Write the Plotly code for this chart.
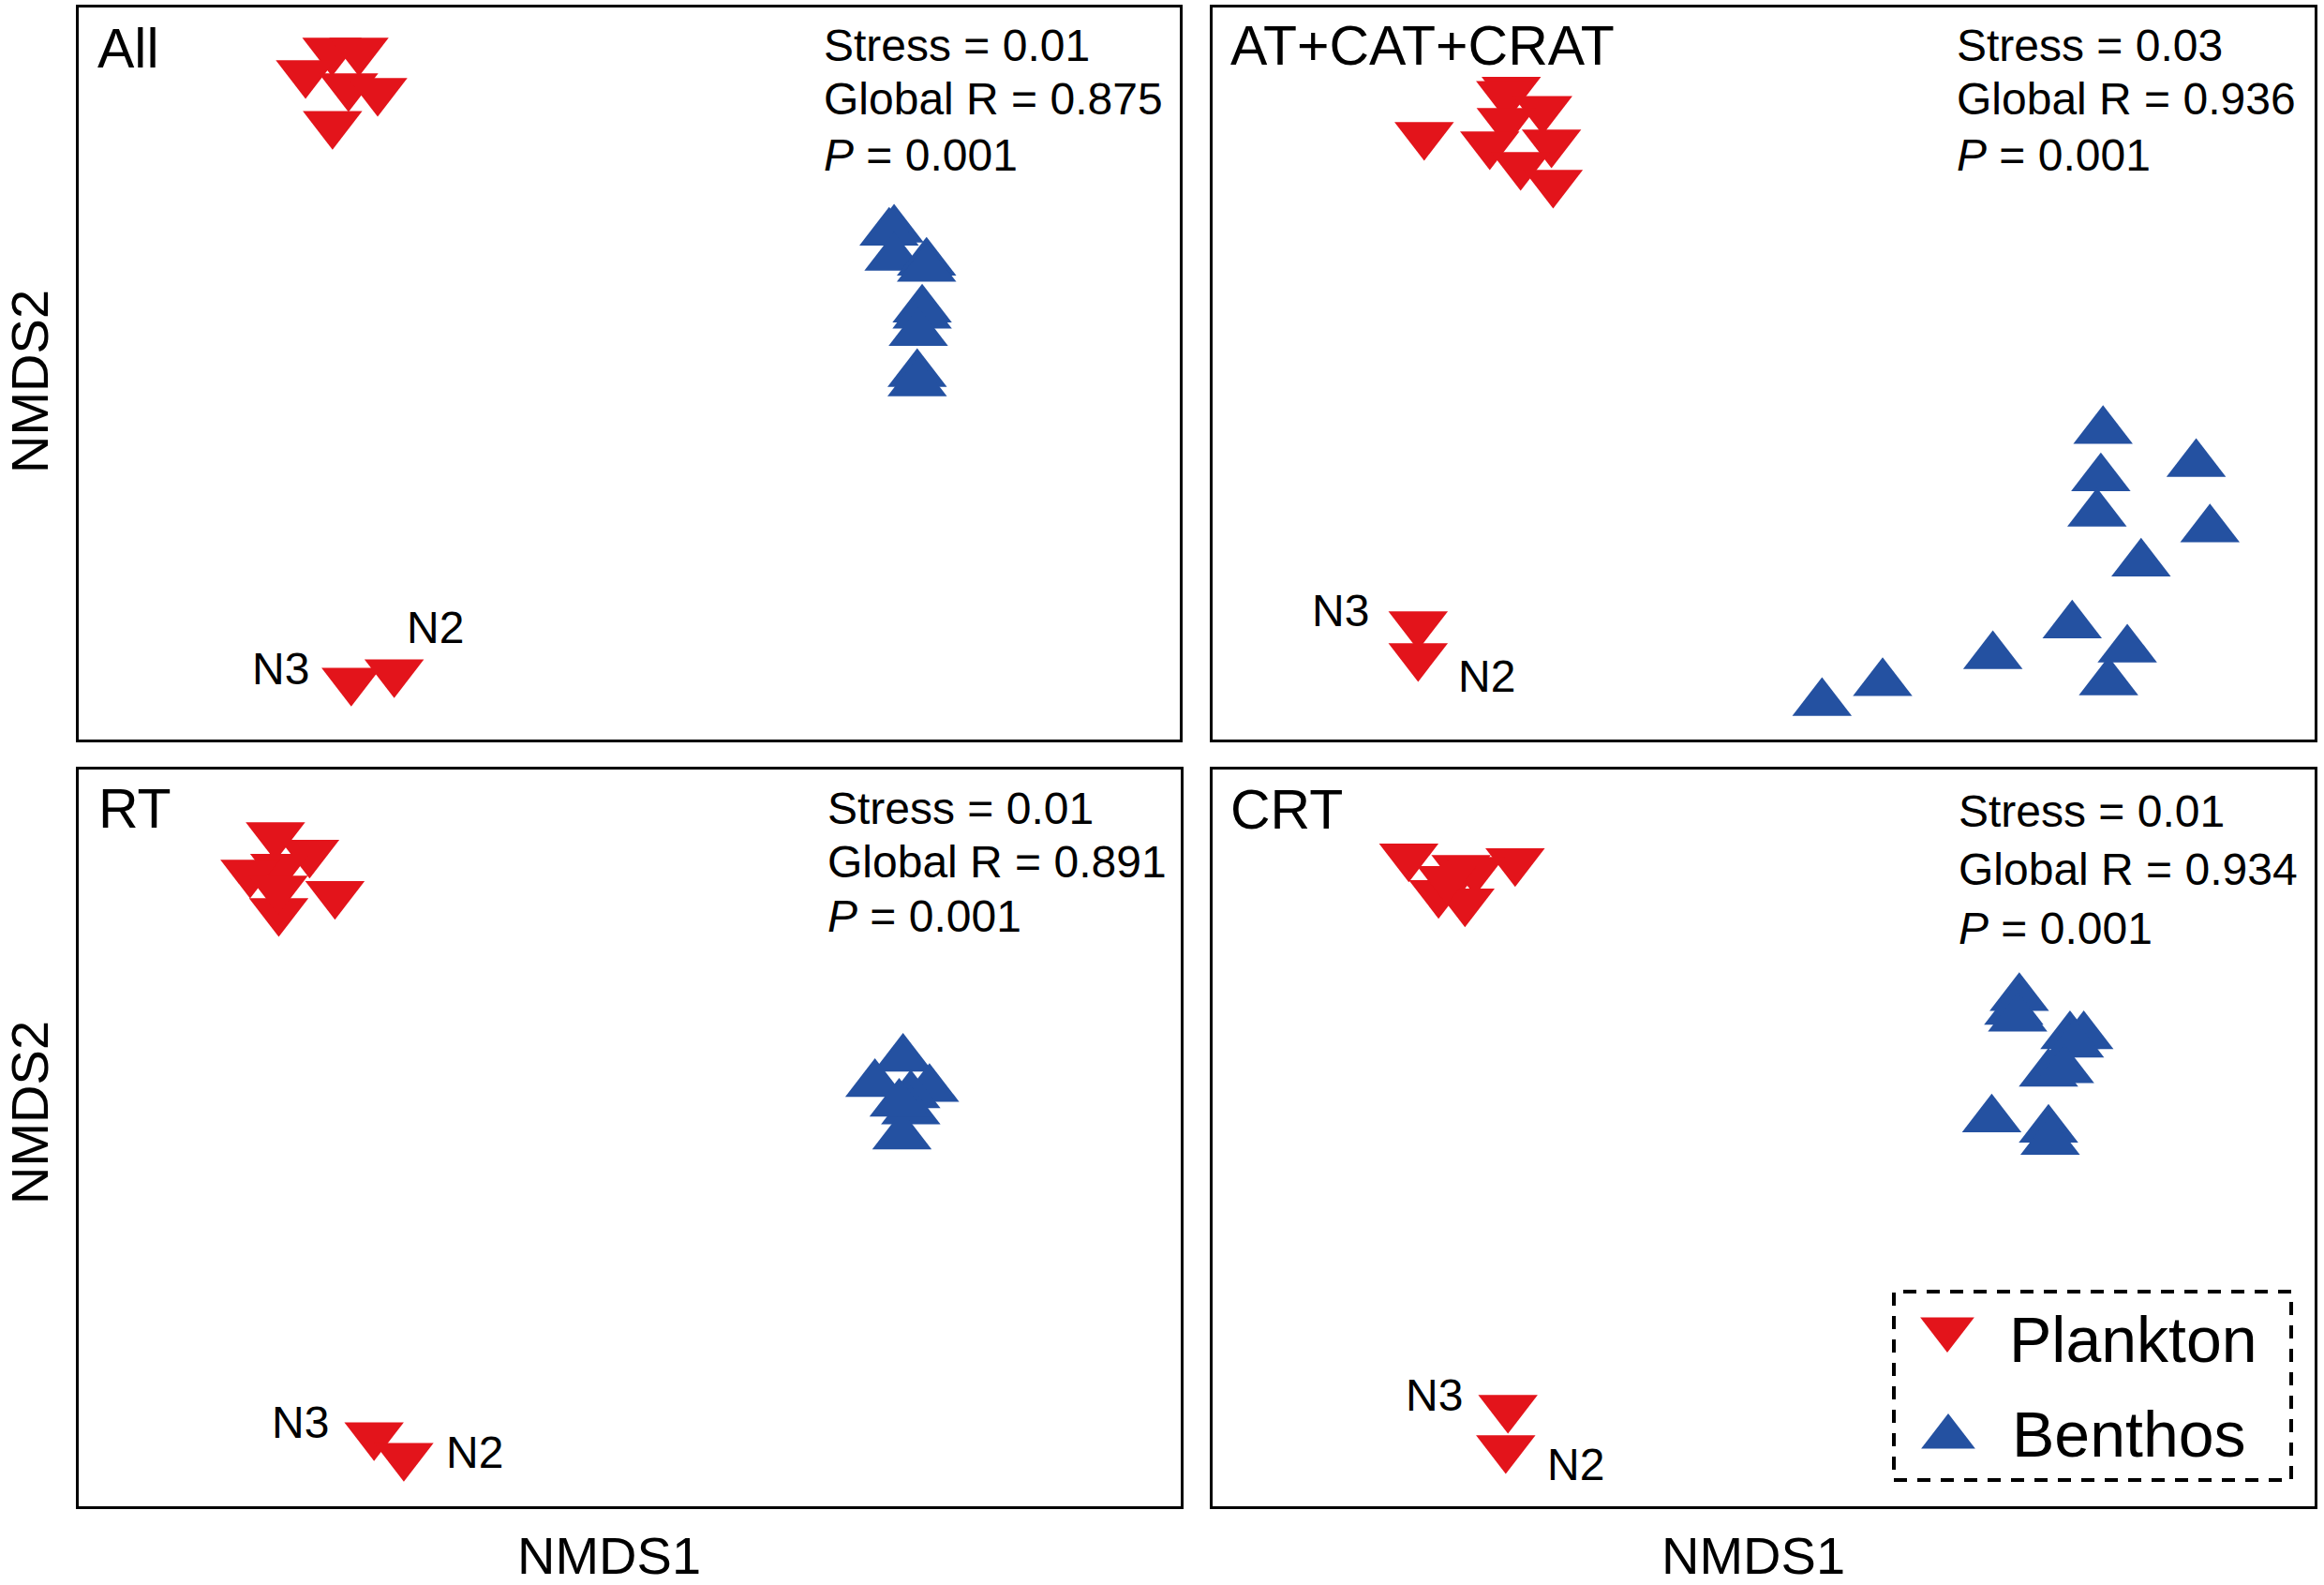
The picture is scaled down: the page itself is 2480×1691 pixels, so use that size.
import plotly.graph_objects as go

# ---------------- data (NMDS scores; each panel scaled to [-1, 1]) -------------
panel_names = ["All", "AT+CAT+CRAT", "RT", "CRT"]
stress_vals = ["0.01", "0.03", "0.01", "0.01"]
global_r_vals = ["0.875", "0.936", "0.891", "0.934"]
p_vals = ["0.001", "0.001", "0.001", "0.001"]
series_names = ["Plankton", "Benthos"]

all_plankton_x = [-0.540, -0.491, -0.588, -0.510, -0.457, -0.539, -0.505, -0.427]
all_plankton_y = [0.882, 0.882, 0.821, 0.785, 0.772, 0.682, -0.839, -0.816]
all_benthos_x = [0.481, 0.472, 0.481, 0.540, 0.540, 0.532, 0.532, 0.525, 0.523, 0.523]
all_benthos_y = [0.393, 0.385, 0.316, 0.303, 0.286, 0.175, 0.158, 0.111, -0.001, -0.027]

atcat_plankton_x = [-0.616, -0.458, -0.468, -0.401, -0.467, -0.385, -0.497, -0.441, -0.382, -0.627, -0.627]
atcat_plankton_y = [0.652, 0.775, 0.764, 0.723, 0.690, 0.631, 0.626, 0.570, 0.521, -0.685, -0.772]
atcat_benthos_x = [0.616, 0.785, 0.612, 0.605, 0.810, 0.685, 0.560, 0.660, 0.416, 0.626, 0.216, 0.106]
atcat_benthos_y = [-0.157, -0.247, -0.286, -0.383, -0.426, -0.519, -0.688, -0.754, -0.772, -0.844, -0.846, -0.900]

rt_plankton_x = [-0.643, -0.581, -0.635, -0.689, -0.535, -0.637, -0.638, -0.464, -0.410]
rt_plankton_y = [0.822, 0.774, 0.736, 0.720, 0.662, 0.616, 0.677, -0.807, -0.863]
rt_benthos_x = [0.496, 0.445, 0.544, 0.510, 0.510, 0.494, 0.489]
rt_benthos_y = [0.215, 0.146, 0.133, 0.116, 0.072, 0.004, 0.093]

crt_plankton_x = [-0.644, -0.451, -0.549, -0.524, -0.590, -0.542, -0.575, -0.464, -0.468]
crt_plankton_y = [0.764, 0.751, 0.733, 0.728, 0.665, 0.642, 0.703, -0.733, -0.842]
crt_benthos_x = [0.464, 0.454, 0.461, 0.556, 0.581, 0.564, 0.517, 0.546, 0.414, 0.517, 0.520]
crt_benthos_y = [0.380, 0.342, 0.324, 0.276, 0.276, 0.253, 0.174, 0.184, 0.050, 0.022, -0.011]

sample_labels = ["N3", "N2"]

# ---------------- style / layout ----------------
W, H = 2480, 1691
RED = "#E3141B"
BLUE = "#2451A1"
FONT = "Liberation Sans, Arial, Helvetica, sans-serif"
MSIZE = 55

panel_data = [
    (all_plankton_x, all_plankton_y, all_benthos_x, all_benthos_y),
    (atcat_plankton_x, atcat_plankton_y, atcat_benthos_x, atcat_benthos_y),
    (rt_plankton_x, rt_plankton_y, rt_benthos_x, rt_benthos_y),
    (crt_plankton_x, crt_plankton_y, crt_benthos_x, crt_benthos_y),
]

# panel frames in pixels (left, right, top, bottom)
frames = [(84, 1259, 8, 789), (1294, 2470, 8, 789), (84, 1260, 821, 1607), (1294, 2470, 821, 1607)]
# title position (left x, centre y) in px
title_pos = [(102, 52), (1311, 49), (103, 863), (1311, 864)]
# stats text left x and centre y for three lines
stats_pos = [(877, [48, 106, 165]), (2086, [48, 106, 165]), (881, [862, 920, 977]), (2088, [866, 927, 990])]
# N3, N2 label centres in px
nlabel_pos = [[(299, 713), (464, 670)], [(1430, 651), (1586, 722)],
              [(320, 1517), (506, 1549)], [(1530, 1488), (1681, 1562)]]


def px(x):
    return x / W


def py(y):
    return 1 - y / H


fig = go.Figure()
layout = dict(
    width=W, height=H, margin=dict(l=0, r=0, t=0, b=0),
    paper_bgcolor="white", plot_bgcolor="rgba(0,0,0,0)", showlegend=False,
    font=dict(family=FONT, color="black"),
)
annotations = []

for i, (frm, data) in enumerate(zip(frames, panel_data)):
    n = "" if i == 0 else str(i + 1)
    l, r, t, b = frm
    axis_common = dict(range=[-1, 1], showgrid=False, zeroline=False, showticklabels=False,
                       ticks="", showline=True, mirror=True, linecolor="black", linewidth=3,
                       fixedrange=True)
    layout["xaxis" + n] = dict(domain=[px(l), px(r)], anchor="y" + n, **axis_common)
    layout["yaxis" + n] = dict(domain=[py(b), py(t)], anchor="x" + n, **axis_common)
    plx, ply, bex, bey = data
    fig.add_trace(go.Scatter(x=bex, y=bey, mode="markers", name=series_names[1],
                             xaxis="x" + n, yaxis="y" + n, cliponaxis=False,
                             marker=dict(symbol="triangle-up", size=MSIZE, color=BLUE, line=dict(width=0))))
    fig.add_trace(go.Scatter(x=plx, y=ply, mode="markers", name=series_names[0],
                             xaxis="x" + n, yaxis="y" + n, cliponaxis=False,
                             marker=dict(symbol="triangle-down", size=MSIZE, color=RED, line=dict(width=0))))
    # panel title
    tx, ty = title_pos[i]
    annotations.append(dict(text=panel_names[i], x=px(tx), y=py(ty), xref="paper", yref="paper",
                            xanchor="left", yanchor="middle", showarrow=False, font=dict(size=59)))
    # statistics
    sx, sys_ = stats_pos[i]
    lines = ["Stress = " + stress_vals[i], "Global R = " + global_r_vals[i], "<i>P</i> = " + p_vals[i]]
    for txt, yy in zip(lines, sys_):
        annotations.append(dict(text=txt, x=px(sx), y=py(yy), xref="paper", yref="paper",
                                xanchor="left", yanchor="middle", showarrow=False, font=dict(size=48)))
    # N3 / N2 labels
    for lab, (lx, ly) in zip(sample_labels, nlabel_pos[i]):
        annotations.append(dict(text=lab, x=px(lx), y=py(ly), xref="paper", yref="paper",
                                xanchor="center", yanchor="middle", showarrow=False, font=dict(size=48)))

# axis labels
for yy in (407, 1187):
    annotations.append(dict(text="NMDS2", x=px(31), y=py(yy), xref="paper", yref="paper", textangle=-90,
                            xanchor="center", yanchor="middle", showarrow=False, font=dict(size=56)))
for xx in (650, 1871):
    annotations.append(dict(text="NMDS1", x=px(xx), y=py(1659), xref="paper", yref="paper",
                            xanchor="center", yanchor="middle", showarrow=False, font=dict(size=56)))

# legend (dashed box with large symbols)
layout["xaxis5"] = dict(domain=[0, 1], range=[0, 1], visible=False, anchor="y5", fixedrange=True)
layout["yaxis5"] = dict(domain=[0, 1], range=[0, 1], visible=False, anchor="x5", fixedrange=True)
legend_sym = ["triangle-down", "triangle-up"]
legend_col = [RED, BLUE]
legend_key = [(2078, 1418), (2079, 1533)]
legend_txt = [(2142, 1429), (2145, 1530)]
for k in range(2):
    fig.add_trace(go.Scatter(x=[px(legend_key[k][0])], y=[py(legend_key[k][1])], mode="markers",
                             xaxis="x5", yaxis="y5", hoverinfo="skip", cliponaxis=False,
                             marker=dict(symbol=legend_sym[k], size=50, color=legend_col[k], line=dict(width=0))))
    annotations.append(dict(text=series_names[k], x=px(legend_txt[k][0]), y=py(legend_txt[k][1]),
                            xref="paper", yref="paper", xanchor="left", yanchor="middle",
                            showarrow=False, font=dict(size=68)))

layout["shapes"] = [dict(type="rect", xref="paper", yref="paper",
                         x0=px(2021), x1=px(2445), y0=py(1579), y1=py(1378),
                         line=dict(color="black", width=4, dash="14px,11px"), fillcolor="rgba(0,0,0,0)")]
layout["annotations"] = annotations
fig.update_layout(**layout)

fig.write_html("out.html", config={"displayModeBar": False},
               post_script="document.body.style.margin='0';document.body.style.overflow='hidden';")
